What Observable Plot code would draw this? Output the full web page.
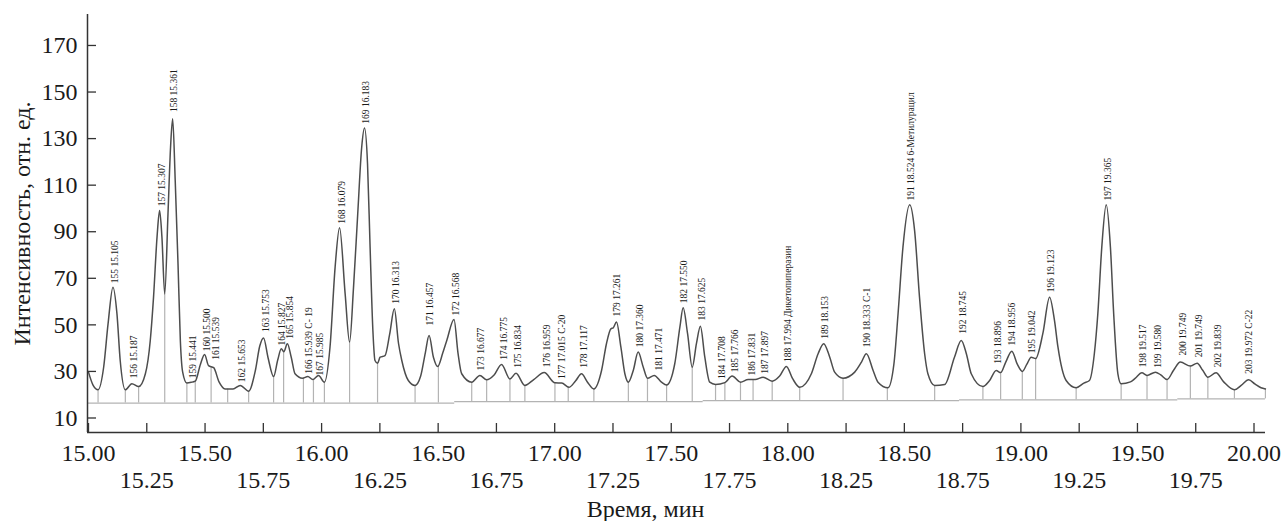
<!DOCTYPE html>
<html>
<head>
<meta charset="utf-8">
<script src="https://cdn.jsdelivr.net/npm/d3@7"></script>
<script src="https://cdn.jsdelivr.net/npm/@observablehq/plot@0.6"></script>
<style>
  body { margin: 0; background: #fff; }
  #chart svg { display: block; font-family: 'Liberation Serif', 'Times New Roman', serif; }
</style>
</head>
<body>
<div id="chart"></div>
<script>
// ---- Data ----
const curveTime = [
15.000,15.020,15.041,15.065,15.084,15.105,15.122,15.136,15.158,15.186,15.215,15.244,15.265,15.279,15.294,15.305,15.315,15.327,15.341,15.352,
15.361,15.372,15.384,15.394,15.404,15.422,15.444,15.458,15.480,15.498,15.515,15.537,15.560,15.586,15.620,15.651,15.687,15.715,15.735,15.751,
15.770,15.794,15.812,15.827,15.838,15.853,15.870,15.886,15.918,15.941,15.962,15.987,16.012,16.036,16.058,16.077,16.101,16.120,16.137,16.155,
16.172,16.184,16.197,16.208,16.220,16.229,16.240,16.251,16.272,16.292,16.312,16.330,16.344,16.372,16.401,16.425,16.445,16.461,16.480,16.498,
16.520,16.537,16.568,16.585,16.601,16.644,16.679,16.708,16.740,16.772,16.808,16.834,16.872,16.910,16.955,17.001,17.030,17.061,17.090,17.115,
17.140,17.168,17.201,17.222,17.241,17.251,17.265,17.284,17.301,17.316,17.337,17.358,17.380,17.398,17.427,17.458,17.480,17.515,17.537,17.551,
17.570,17.590,17.608,17.625,17.644,17.665,17.690,17.730,17.761,17.797,17.830,17.860,17.894,17.933,17.965,17.994,18.020,18.051,18.101,18.130,
18.154,18.180,18.201,18.237,18.287,18.316,18.337,18.366,18.387,18.430,18.455,18.473,18.494,18.523,18.544,18.565,18.587,18.601,18.630,18.673,
18.715,18.744,18.766,18.787,18.837,18.865,18.894,18.913,18.935,18.961,18.985,19.006,19.025,19.044,19.063,19.094,19.123,19.144,19.159,19.194,
19.237,19.270,19.294,19.315,19.330,19.347,19.366,19.384,19.398,19.416,19.430,19.470,19.490,19.519,19.541,19.577,19.600,19.627,19.655,19.684,
19.727,19.756,19.780,19.802,19.837,19.870,19.916,19.945,19.977,20.005,20.030,20.049
];
const curveIntensity = [
29.7,24.0,22.1,31.8,50.5,66.2,54.8,34.7,22.1,24.7,23.5,29.0,43.3,61.9,87.7,99.1,87.7,63.3,97.7,126.3,
138.5,112.0,76.2,43.3,29.7,25.0,25.4,25.8,33.0,37.3,32.5,31.6,25.5,22.5,22.5,24.0,21.5,30.0,41.0,44.4,
36.0,27.8,35.0,39.7,38.5,41.9,36.0,29.0,27.1,27.8,26.5,28.3,25.4,40.4,74.8,91.7,63.3,42.6,66.2,97.7,
126.3,134.5,119.2,83.4,47.6,34.7,33.5,36.1,36.8,46.0,56.9,42.0,34.7,26.1,24.0,28.0,38.0,45.4,36.0,32.1,
38.0,43.3,52.3,38.0,29.0,25.4,28.3,26.4,28.5,33.0,26.8,29.2,24.0,26.5,29.5,25.1,25.0,23.2,26.0,29.0,
25.5,22.5,30.4,41.9,48.3,48.7,51.2,40.4,29.0,25.4,30.4,38.3,31.8,27.1,28.3,25.4,24.2,33.3,49.0,57.3,
46.2,31.8,41.9,49.4,36.1,25.4,24.4,25.2,28.0,25.4,26.5,26.5,27.5,25.8,28.0,32.1,27.0,23.2,29.0,37.6,
41.9,36.1,29.7,27.1,29.7,34.0,37.6,30.4,25.4,23.0,33.0,54.8,83.4,101.6,90.5,61.9,37.6,29.0,24.0,24.4,
36.1,43.3,37.6,29.0,23.5,26.0,30.4,29.5,34.0,38.7,33.0,30.0,33.0,36.1,35.5,46.2,61.9,51.9,40.4,26.1,
23.0,25.0,26.1,37.6,54.8,83.4,101.6,83.4,54.8,29.0,24.7,25.5,27.0,29.4,28.3,29.7,28.5,26.5,30.5,34.0,
32.3,33.5,30.5,27.5,29.4,25.5,22.1,24.0,26.4,24.5,23.0,22.5
];

// integration drop lines: time and the intensity where they meet the trace
const dropTime = [15.041,15.158,15.215,15.327,15.422,15.458,15.526,15.597,15.687,15.794,15.837,15.922,15.965,16.012,16.120,16.240,
16.401,16.501,16.644,16.708,16.808,16.872,17.001,17.058,17.168,17.316,17.398,17.480,17.590,17.690,17.730,17.797,17.851,17.933,
18.051,18.237,18.427,18.630,18.837,18.913,19.006,19.063,19.237,19.430,19.541,19.627,19.727,19.802,19.916,20.049];
const dropTop = [22.1,22.1,23.5,63.3,25.0,25.8,32.0,22.5,21.5,27.8,38.5,27.1,26.5,25.4,42.6,33.5,
24.0,32.3,25.4,26.4,26.8,24.0,25.1,23.3,22.5,25.4,27.1,24.2,31.8,24.4,25.2,25.4,26.5,25.8,
23.2,27.1,23.1,24.0,23.5,29.5,30.0,35.5,23.0,24.7,28.3,26.5,32.3,27.5,22.1,22.5];

// stepped baseline
const baseStart = [15.000, 16.571, 17.637, 18.737, 19.673];
const baseEnd   = [16.571, 17.637, 18.737, 19.673, 20.049];
const baseLevel = [16.4, 17.0, 17.5, 17.8, 18.2];

// peak annotations
const peakLabels = [
"155 15.105","156 15.187","157 15.307","158 15.361","159 15.441","160 15.500","161 15.539","162 15.653","163 15.753",
"164 15.827","165 15.854","166 15.939 C- 19","167 15.985","168 16.079","169 16.183","170 16.313","171 16.457","172 16.568",
"173 16.677","174 16.775","175 16.834","176 16.959","177 17.015 C-20","178 17.117","179 17.261","180 17.360","181 17.471",
"182 17.550","183 17.625","184 17.708","185 17.766","186 17.831","187 17.897","188 17.994 Дикетопиперазин","189 18.153",
"190 18.333 C-1","191 18.524 6-Метилурацил","192 18.745","193 18.896","194 18.956","195 19.042","196 19.123","197 19.365",
"198 19.517","199 19.580","200 19.749","201 19.749","202 19.839","203 19.972 C-22"
];
const peakLabelTime = [
15.105,15.187,15.307,15.361,15.441,15.500,15.539,15.653,15.753,
15.822,15.858,15.939,15.985,16.079,16.183,16.313,16.457,16.568,
16.677,16.775,16.834,16.959,17.025,17.117,17.261,17.360,17.440,
17.550,17.625,17.712,17.766,17.840,17.897,17.994,18.153,
18.333,18.524,18.745,18.896,18.956,19.042,19.123,19.365,
19.517,19.580,19.690,19.756,19.839,19.972
];
const peakLabelLevel = [
67.9,27.1,100.9,141.4,27.1,38.7,35.0,25.4,46.9,
41.1,44.0,29.0,28.3,93.4,136.4,59.1,49.7,54.0,
30.4,35.0,31.6,31.8,26.8,31.6,53.6,40.4,30.4,
59.3,51.9,26.8,29.7,28.3,29.0,34.0,44.0,
40.4,103.4,46.2,33.3,41.1,37.8,64.0,103.4,
31.8,31.6,36.8,36.1,31.8,29.0
];

const xTicksUpper = [15.0, 15.5, 16.0, 16.5, 17.0, 17.5, 18.0, 18.5, 19.0, 19.5, 20.0];
const xTicksLower = [15.25, 15.75, 16.25, 16.75, 17.25, 17.75, 18.25, 18.75, 19.25, 19.75];
const yTicks = [10, 30, 50, 70, 90, 110, 130, 150, 170];
const xTitle = "Время, мин";
const yTitle = "Интенсивность, отн. ед.";

// ---- Build tables ----
const curve = curveTime.map((t, i) => ({t, v: curveIntensity[i]}));
const base = baseStart.map((t0, i) => ({t0, t1: baseEnd[i], v: baseLevel[i]}));
const baseAt = t => { const s = base.find(b => t >= b.t0 && t <= b.t1); return s ? s.v : baseLevel[0]; };
const drops = dropTime.map((t, i) => ({t, top: dropTop[i], bottom: baseAt(t)}));
const peaks = peakLabels.map((label, i) => ({label, t: peakLabelTime[i], v: peakLabelLevel[i]}));

// ---- Layout ----
const W = 1286, H = 521;
const mL = 87, mR = 21, mT = 14, mB = 89;
const xDomain = [14.9957, 20.0493];
const yDomain = [3.77, 183.3];
const tick = 9;
const tickY = tick * (yDomain[1] - yDomain[0]) / (H - mT - mB);
const tickX = tick * (xDomain[1] - xDomain[0]) / (W - mL - mR);
const serif = "Liberation Serif";
const axisColor = "#333";
const txt = {fontFamily: serif, fill: "#1a1a1a"};

const chart = Plot.plot({
  width: W, height: H,
  marginLeft: mL, marginRight: mR, marginTop: mT, marginBottom: mB,
  x: {domain: xDomain, axis: null},
  y: {domain: yDomain, axis: null},
  style: {fontFamily: serif, background: "#fff", color: "#1a1a1a"},
  marks: [
    Plot.ruleY(base, {y: "v", x1: "t0", x2: "t1", stroke: "#b3b3b3", strokeWidth: 1.2}),
    Plot.ruleX(drops, {x: "t", y1: "bottom", y2: "top", stroke: "#b3b3b3", strokeWidth: 1.2}),
    Plot.line(curve, {x: "t", y: "v", curve: "monotone-x", stroke: "#4d4d4d", strokeWidth: 1.5}),
    Plot.text(peaks, {...txt, x: "t", y: "v", text: "label", rotate: -90, textAnchor: "start", lineAnchor: "middle",
      fontSize: 9.5, dx: 1.5}),
    Plot.ruleX([xDomain[0]], {stroke: axisColor, strokeWidth: 1.5}),
    Plot.ruleY([yDomain[0]], {stroke: axisColor, strokeWidth: 1.5}),
    Plot.ruleX(xTicksUpper.concat(xTicksLower), {x: d => d, y1: yDomain[0], y2: yDomain[0] + tickY, stroke: axisColor, strokeWidth: 1.3}),
    Plot.ruleY(yTicks, {y: d => d, x1: xDomain[0], x2: xDomain[0] + tickX, stroke: axisColor, strokeWidth: 1.3}),
    Plot.text(xTicksUpper, {...txt, x: d => d, frameAnchor: "bottom", dy: 21, text: d => d.toFixed(2), fontSize: 24, textAnchor: "middle", lineAnchor: "middle"}),
    Plot.text(xTicksLower, {...txt, x: d => d, frameAnchor: "bottom", dy: 48, text: d => d.toFixed(2), fontSize: 24, textAnchor: "middle", lineAnchor: "middle"}),
    Plot.text(yTicks, {...txt, y: d => d, frameAnchor: "left", dx: -10, textAnchor: "end", text: d => String(d), fontSize: 24, lineAnchor: "middle"}),
    Plot.text([yTitle], {...txt, frameAnchor: "left", dx: -65, rotate: -90, textAnchor: "middle", text: d => d, fontSize: 24, lineAnchor: "middle"}),
    Plot.text([xTitle], {...txt, frameAnchor: "bottom", dx: -31, dy: 77, textAnchor: "middle", text: d => d, fontSize: 24, lineAnchor: "middle"})
  ]
});
document.getElementById("chart").appendChild(chart);
</script>
</body>
</html>
